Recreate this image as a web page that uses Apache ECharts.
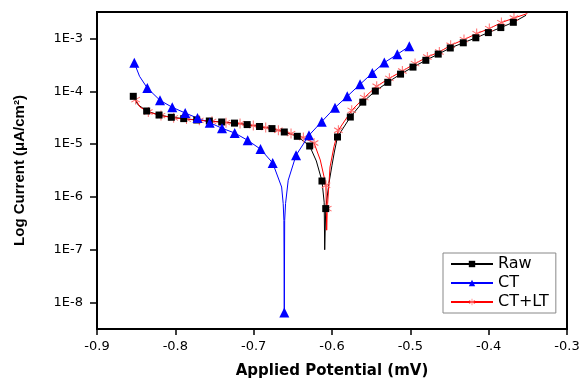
<!DOCTYPE html>
<html>
<head>
<meta charset="utf-8">
<script src="https://cdn.jsdelivr.net/npm/echarts@6/dist/echarts.min.js"></script>
<style>html,body{margin:0;padding:0;background:#fff;}#c{width:581px;height:381px;}</style>
</head>
<body>
<div id="c"></div>
<script>
// ---- Data (potential in V, log10 of current) ----
const seriesNames = ['Raw', 'CT', 'CT+LT'];
const xTicks = [-0.9, -0.8, -0.7, -0.6, -0.5, -0.4, -0.3];
const yTicks = [-8, -7, -6, -5, -4, -3];

const rawMarkE = [-0.8537,-0.8366,-0.8208,-0.8051,-0.7893,-0.7727,-0.7566,-0.7408,-0.7245,-0.7083,-0.6925,-0.6766,-0.6609,-0.6443,-0.6285,-0.6128,-0.6080,-0.5930,-0.5766,-0.5607,-0.5447,-0.5288,-0.5125,-0.4966,-0.4802,-0.4644,-0.4490,-0.4324,-0.4164,-0.4004,-0.3845,-0.3685];
const rawMarkL = [-4.096,-4.374,-4.450,-4.493,-4.518,-4.544,-4.563,-4.582,-4.603,-4.631,-4.667,-4.707,-4.771,-4.853,-5.036,-5.699,-6.221,-4.866,-4.488,-4.206,-3.997,-3.831,-3.676,-3.543,-3.414,-3.297,-3.181,-3.083,-2.988,-2.890,-2.795,-2.695];
const rawLineE = [-0.8537,-0.8480,-0.8366,-0.8208,-0.8051,-0.7893,-0.7727,-0.7566,-0.7408,-0.7245,-0.7083,-0.6925,-0.6766,-0.6609,-0.6443,-0.6285,-0.6200,-0.6128,-0.6100,-0.6093,-0.6080,-0.6040,-0.6000,-0.5970,-0.5930,-0.5766,-0.5607,-0.5447,-0.5288,-0.5125,-0.4966,-0.4802,-0.4644,-0.4490,-0.4324,-0.4164,-0.4004,-0.3845,-0.3685,-0.3523];
const rawLineL = [-4.096,-4.250,-4.374,-4.450,-4.493,-4.518,-4.544,-4.563,-4.582,-4.603,-4.631,-4.667,-4.707,-4.771,-4.853,-5.036,-5.320,-5.699,-6.100,-7.000,-6.221,-5.750,-5.400,-5.150,-4.866,-4.488,-4.206,-3.997,-3.831,-3.676,-3.543,-3.414,-3.297,-3.181,-3.083,-2.988,-2.890,-2.795,-2.695,-2.562];

const ctMarkE = [-0.8524,-0.8358,-0.8196,-0.8039,-0.7874,-0.7717,-0.7561,-0.7404,-0.7242,-0.7076,-0.6913,-0.6757,-0.6609,-0.6459,-0.6294,-0.6131,-0.5962,-0.5805,-0.5642,-0.5485,-0.5332,-0.5166,-0.5013];
const ctMarkL = [-3.462,-3.939,-4.171,-4.304,-4.412,-4.508,-4.594,-4.701,-4.790,-4.929,-5.095,-5.358,-8.190,-5.212,-4.834,-4.575,-4.310,-4.096,-3.869,-3.655,-3.458,-3.301,-3.149];
const ctLineE = [-0.8524,-0.8457,-0.8358,-0.8196,-0.8039,-0.7874,-0.7717,-0.7561,-0.7404,-0.7242,-0.7076,-0.6913,-0.6757,-0.6643,-0.6623,-0.6614,-0.6609,-0.6604,-0.6593,-0.6559,-0.6459,-0.6294,-0.6131,-0.5962,-0.5805,-0.5642,-0.5485,-0.5332,-0.5166,-0.5013];
const ctLineL = [-3.462,-3.717,-3.939,-4.171,-4.304,-4.412,-4.508,-4.594,-4.701,-4.790,-4.929,-5.095,-5.358,-5.813,-6.127,-6.443,-8.190,-6.443,-6.127,-5.684,-5.212,-4.834,-4.575,-4.310,-4.096,-3.869,-3.655,-3.458,-3.301,-3.149];

const ctltMarkE = [-0.8507,-0.8345,-0.8183,-0.8021,-0.7857,-0.7694,-0.7532,-0.7353,-0.7174,-0.7005,-0.6846,-0.6685,-0.6523,-0.6366,-0.6229,-0.6077,-0.6060,-0.5919,-0.5748,-0.5588,-0.5429,-0.5268,-0.5102,-0.4940,-0.4783,-0.4630,-0.4485,-0.4315,-0.4153,-0.3992,-0.3838,-0.3677];
const ctltMarkL = [-4.158,-4.393,-4.461,-4.503,-4.527,-4.550,-4.569,-4.594,-4.612,-4.650,-4.688,-4.739,-4.802,-4.877,-4.980,-5.780,-6.221,-4.739,-4.361,-4.120,-3.906,-3.755,-3.617,-3.477,-3.352,-3.257,-3.130,-3.022,-2.909,-2.814,-2.701,-2.614];
const ctltLineE = [-0.8537,-0.8507,-0.8450,-0.8345,-0.8183,-0.8021,-0.7857,-0.7694,-0.7532,-0.7353,-0.7174,-0.7005,-0.6846,-0.6685,-0.6523,-0.6366,-0.6229,-0.6150,-0.6077,-0.6068,-0.6060,-0.6025,-0.5975,-0.5919,-0.5748,-0.5588,-0.5429,-0.5268,-0.5102,-0.4940,-0.4783,-0.4630,-0.4485,-0.4315,-0.4153,-0.3992,-0.3838,-0.3677,-0.3507];
const ctltLineL = [-4.080,-4.158,-4.300,-4.393,-4.461,-4.503,-4.527,-4.550,-4.569,-4.594,-4.612,-4.650,-4.688,-4.739,-4.802,-4.877,-4.980,-5.300,-5.780,-6.630,-6.221,-5.433,-5.050,-4.739,-4.361,-4.120,-3.906,-3.755,-3.617,-3.477,-3.352,-3.257,-3.130,-3.022,-2.909,-2.814,-2.701,-2.614,-2.530];

// ---- Build ----
const zip = (a, b) => a.map((v, i) => [v, b[i]]);
const asterisk = 'path://M-0.5,-5L0.5,-5L0.5,5L-0.5,5Z M4.08,2.93L4.58,2.07L-4.08,-2.93L-4.58,-2.07Z M4.58,-2.07L4.08,-2.93L-4.58,2.07L-4.08,2.93Z';
const colors = {Raw: '#000000', CT: '#0000ff', 'CT+LT': '#ff0000'};

const chart = echarts.init(document.getElementById('c'), null, {renderer: 'canvas'});
const lineSeries = (name, e, l, symbol, markColor) => ({
  name, type: 'line', data: zip(e, l), showSymbol: false, symbol,
  lineStyle: {color: colors[name], width: 1},
  itemStyle: {color: markColor},
  z: 2, silent: true
});
const markSeries = (name, e, l, symbol, size, markColor, z) => ({
  name, type: 'scatter', data: zip(e, l), symbol, symbolSize: size,
  itemStyle: {color: markColor, opacity: 1}, z, silent: true
});

chart.setOption({
  animation: false,
  backgroundColor: '#fff',
  grid: {left: 97, top: 12, right: 14, bottom: 52, outerBoundsMode: 'none', containLabel: false,
    show: true, borderColor: '#000', borderWidth: 2, backgroundColor: 'transparent'},
  xAxis: {
    type: 'value', min: -0.9, max: -0.3, interval: 0.1,
    axisLine: {show: true, onZero: false, lineStyle: {color: '#000', width: 2}},
    axisTick: {show: true, length: 6, lineStyle: {color: '#000', width: 1.5}},
    axisLabel: {color: '#000', fontFamily: 'DejaVu Sans', fontSize: 13, margin: 11,
      formatter: v => (Math.round(v * 10) / 10).toFixed(1)},
    splitLine: {show: false},
    name: 'Applied Potential (mV)', nameLocation: 'middle', nameGap: 35,
    nameTextStyle: {color: '#000', fontFamily: 'DejaVu Sans', fontWeight: 'bold', fontSize: 15}
  },
  yAxis: {
    type: 'value', min: -8.5, max: -2.5,
    axisLine: {show: true, onZero: false, lineStyle: {color: '#000', width: 2}},
    axisTick: {show: true, length: 7, customValues: yTicks, lineStyle: {color: '#000', width: 1.5}},
    axisLabel: {color: '#000', fontFamily: 'DejaVu Sans', fontSize: 13, margin: 14,
      customValues: yTicks, formatter: v => '1E' + Math.round(v)},
    splitLine: {show: false},
    name: 'Log Current (\u03bcA/cm\u00b2)', nameLocation: 'middle', nameGap: 70,
    nameTextStyle: {color: '#000', fontFamily: 'Liberation Sans', fontWeight: 'bold', fontSize: 15}
  },
  legend: {
    data: seriesNames, orient: 'vertical', left: 443, top: 253,
    padding: [3, 7, 3, 7], itemGap: 3, itemWidth: 42, itemHeight: 8,
    borderColor: '#888', borderWidth: 1, backgroundColor: '#fff',
    textStyle: {color: '#000', fontFamily: 'DejaVu Sans', fontSize: 16}
  },
  series: [
    lineSeries('Raw', rawLineE, rawLineL, 'rect', '#000'),
    lineSeries('CT', ctLineE, ctLineL, 'triangle', '#0000ff'),
    lineSeries('CT+LT', ctltLineE, ctltLineL, asterisk, '#ff6a6a'),
    markSeries('CT+LT', ctltMarkE, ctltMarkL, asterisk, [9, 10], '#ff6a6a', 3),
    markSeries('Raw', rawMarkE, rawMarkL, 'rect', 7, '#000', 4),
    markSeries('CT', ctMarkE, ctMarkL, 'triangle', 10, '#0000ff', 5)
  ]
});
</script>
</body>
</html>
